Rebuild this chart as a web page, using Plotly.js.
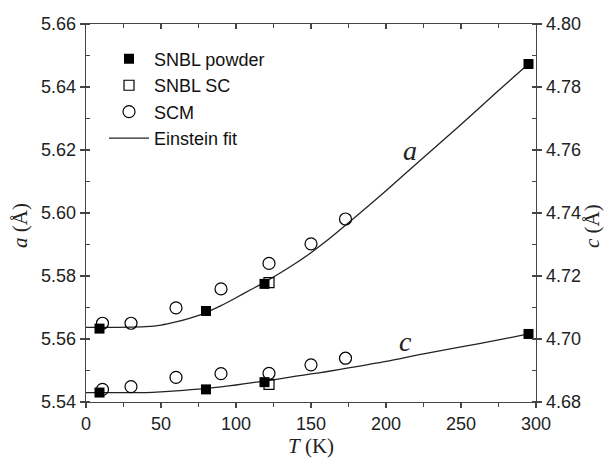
<!DOCTYPE html>
<html>
<head>
<meta charset="utf-8">
<script src="https://cdn.plot.ly/plotly-3.0.1.min.js"></script>
<style>html,body{margin:0;padding:0;background:#fff;}#chart{width:604px;height:459px;}</style>
</head>
<body>
<div id="chart"></div>
<script>
// SNBL powder
const T_powder = [9, 80, 119, 295];
const a_powder = [5.5633, 5.5689, 5.5775, 5.6473];
const c_powder = [4.6830, 4.6840, 4.6863, 4.7016];
// SNBL SC
const T_sc = [122];
const a_sc = [5.5779];
const c_sc = [4.6856];
// SCM
const T_scm = [11, 30, 60, 90, 122, 150, 173];
const a_scm = [5.5650, 5.5650, 5.5699, 5.5759, 5.5840, 5.5902, 5.5981];
const c_scm = [4.6840, 4.6849, 4.6878, 4.6890, 4.6891, 4.6918, 4.6939];
// Einstein fit
const T_fit = [0, 20, 40, 50, 60, 70, 80, 90, 100, 110, 120, 130, 140, 150, 160, 175, 200, 225, 250, 275, 295];
const a_fit = [5.5637, 5.5637, 5.5639, 5.5644, 5.5654, 5.5667, 5.5684, 5.5706, 5.5731, 5.5757, 5.5783, 5.5811, 5.5841, 5.5874, 5.5910, 5.5969, 5.6071, 5.6176, 5.6281, 5.6389, 5.6473];
const c_fit = [4.6830, 4.6830, 4.6830, 4.6832, 4.6835, 4.6839, 4.6843, 4.6848, 4.6854, 4.6861, 4.6867, 4.6874, 4.6882, 4.6889, 4.6896, 4.6908, 4.6929, 4.6953, 4.6975, 4.6997, 4.7016];

const sq = {symbol: 'square', size: 10, color: '#000', line: {width: 0}};
const osq = {symbol: 'square-open', size: 10, color: '#000', line: {width: 1.2}};
const oc = {symbol: 'circle-open', size: 12, color: '#000', line: {width: 1.2}};
const fitLine = {color: '#222', width: 1.3, shape: 'spline', smoothing: 0.8};

const traces = [
  {x: T_fit, y: a_fit, mode: 'lines', line: fitLine, name: 'Einstein fit', legendgroup: 'fit', showlegend: false, xaxis: 'x', yaxis: 'y'},
  {x: T_fit, y: c_fit, mode: 'lines', line: fitLine, name: 'Einstein fit', legendgroup: 'fit', showlegend: false, xaxis: 'x', yaxis: 'y2'},
  {x: T_powder, y: a_powder, mode: 'markers', marker: sq, name: 'SNBL powder', legendgroup: 'p', xaxis: 'x', yaxis: 'y'},
  {x: T_powder, y: c_powder, mode: 'markers', marker: sq, name: 'SNBL powder', legendgroup: 'p', showlegend: false, xaxis: 'x', yaxis: 'y2'},
  {x: T_sc, y: a_sc, mode: 'markers', marker: osq, name: 'SNBL SC', legendgroup: 's', xaxis: 'x', yaxis: 'y'},
  {x: T_sc, y: c_sc, mode: 'markers', marker: osq, name: 'SNBL SC', legendgroup: 's', showlegend: false, xaxis: 'x', yaxis: 'y2'},
  {x: T_scm, y: a_scm, mode: 'markers', marker: oc, name: 'SCM', legendgroup: 'm', xaxis: 'x', yaxis: 'y'},
  {x: T_scm, y: c_scm, mode: 'markers', marker: oc, name: 'SCM', legendgroup: 'm', showlegend: false, xaxis: 'x', yaxis: 'y2'},
  {x: [null], y: [null], mode: 'lines', line: {color: '#222', width: 1.3}, name: 'Einstein fit', legendgroup: 'fit2', xaxis: 'x', yaxis: 'y'}
];

const tickFont = {family: 'Liberation Sans, Arial, sans-serif', size: 18, color: '#222'};
const serif = 'Liberation Serif, Times New Roman, serif';
const titleFont = {family: serif, size: 21, color: '#222'};
const axLine = {showline: true, linecolor: '#444', linewidth: 1.3, showgrid: false, zeroline: false, tickcolor: '#444', tickwidth: 1.2};

const plotW = 604 - 86 - 68, plotH = 459 - 24 - 57;

const layout = {
  width: 604, height: 459,
  margin: {l: 86, r: 68, t: 24, b: 57},
  paper_bgcolor: '#fff', plot_bgcolor: '#fff',
  showlegend: true,
  legend: {x: 0.04, y: 0.956, xanchor: 'left', yanchor: 'top', bgcolor: 'rgba(0,0,0,0)',
           font: {family: 'Liberation Sans, Arial, sans-serif', size: 18, color: '#111'},
           tracegroupgap: 0, itemwidth: 40},
  xaxis: Object.assign({}, axLine, {
    range: [0, 300], tickmode: 'linear', tick0: 0, dtick: 50, ticks: 'outside', ticklen: 5,
    minor: {dtick: 25, ticks: 'outside', ticklen: 4, tickcolor: '#444'},
    tickfont: tickFont,
    title: {text: '<i>T</i> (K)', font: titleFont, standoff: 2}
  }),
  xaxis2: Object.assign({}, axLine, {
    range: [0, 300], overlaying: 'x', side: 'top', tickmode: 'linear', tick0: 0, dtick: 50,
    ticks: 'inside', ticklen: 5, showticklabels: false,
    minor: {dtick: 25, ticks: 'inside', ticklen: 4, tickcolor: '#444'}
  }),
  yaxis: Object.assign({}, axLine, {
    range: [5.54, 5.66], tickmode: 'linear', tick0: 5.54, dtick: 0.02, tickformat: '.2f',
    ticks: 'outside', ticklen: 5,
    minor: {dtick: 0.01, ticks: 'inside', ticklen: 4, tickcolor: '#444'},
    tickfont: tickFont
  }),
  yaxis2: Object.assign({}, axLine, {
    range: [4.68, 4.80], overlaying: 'y', side: 'right', tickmode: 'linear', tick0: 4.68, dtick: 0.02, tickformat: '.2f',
    ticks: 'outside', ticklen: 5,
    minor: {dtick: 0.01, ticks: 'inside', ticklen: 4, tickcolor: '#444'},
    tickfont: tickFont
  }),
  annotations: [
    {x: 216, y: 5.6200, xref: 'x', yref: 'y', text: '<i>a</i>', showarrow: false,
     font: {family: serif, size: 28, color: '#222'}},
    {x: 213, y: 4.6993, xref: 'x', yref: 'y2', text: '<i>c</i>', showarrow: false,
     font: {family: serif, size: 28, color: '#222'}},
    {x: (20 - 86) / plotW, y: (459 - 57 - 226) / plotH, xref: 'paper', yref: 'paper', text: '<i>a</i> (Å)',
     showarrow: false, textangle: -90, xanchor: 'center', yanchor: 'middle', font: titleFont},
    {x: (592 - 86) / plotW, y: (459 - 57 - 226) / plotH, xref: 'paper', yref: 'paper', text: '<i>c</i> (Å)',
     showarrow: false, textangle: -90, xanchor: 'center', yanchor: 'middle', font: titleFont}
  ]
};

// invisible trace to activate top axis
traces.push({x: [0], y: [5.6], xaxis: 'x2', yaxis: 'y', mode: 'markers', marker: {opacity: 0}, showlegend: false, hoverinfo: 'skip'});

Plotly.newPlot('chart', traces, layout, {staticPlot: true});
</script>
</body>
</html>
